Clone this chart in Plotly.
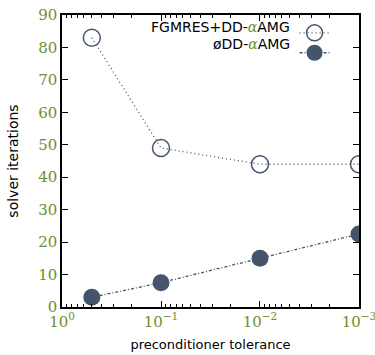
import plotly.graph_objects as go

tolerance = [0.5, 0.1, 0.01, 0.001]
fgmres_iters = [83, 49, 44, 44]
plain_iters = [3, 7.5, 15, 22.5]
x_tickvals = [1, 0.1, 0.01, 0.001]
x_ticktext = ["10<sup>0</sup>", "10<sup>−1</sup>", "10<sup>−2</sup>", "10<sup>−3</sup>"]
series_names = ["FGMRES+DD-<span style='color:#6f8f2a;font-family:DejaVu Serif'><i>α</i></span>AMG",
                "øDD-<span style='color:#6f8f2a;font-family:DejaVu Serif'><i>α</i></span>AMG"]

col = "#44546a"
green = "#6f8f2a"

fig = go.Figure()
fig.add_trace(go.Scatter(
    x=tolerance, y=fgmres_iters, mode="lines+markers", name=" ",
    line=dict(color=col, width=1.3, dash="1px,3px"),
    marker=dict(symbol="circle-open", size=17, color=col, line=dict(width=1.5, color=col)),
))
fig.add_trace(go.Scatter(
    x=tolerance, y=plain_iters, mode="lines+markers", name=" ",
    line=dict(color=col, width=1.3, dash="3px,2px,1px,2px"),
    marker=dict(symbol="circle", size=17, color=col),
))

tickfont = dict(family="DejaVu Serif", size=15, color=green)
fig.update_xaxes(
    type="log", range=[0.0002, -3.0002], tickvals=x_tickvals, ticktext=x_ticktext,
    ticklabeloverflow="allow", automargin=False,
    showgrid=False, zeroline=False, showline=True, linecolor="black", linewidth=1.5,
    mirror="allticks", ticks="inside", ticklen=6, tickcolor="black",
    minor=dict(ticks="inside", ticklen=3, tickcolor="black", dtick="D1"),
    tickfont=tickfont,
    title=dict(text="preconditioner tolerance", font=dict(family="DejaVu Sans", size=13, color="black"), standoff=10),
)
fig.update_yaxes(
    range=[0, 90], dtick=10, automargin=False,
    showgrid=False, zeroline=False, showline=True, linecolor="black", linewidth=1.5,
    mirror="allticks", ticks="inside", ticklen=6, tickcolor="black",
    tickfont=tickfont,
    title=dict(text="solver iterations", font=dict(family="DejaVu Sans", size=14, color="black"), standoff=16),
)

for i, name in enumerate(series_names):
    fig.add_annotation(
        text=name, xref="paper", yref="paper", x=0.775, y=0.958 - i * 0.058,
        xanchor="right", yanchor="middle", showarrow=False,
        font=dict(family="DejaVu Sans", size=14, color="black"),
    )

fig.update_layout(
    width=375, height=355,
    margin=dict(l=62, r=16, t=15, b=48),
    plot_bgcolor="white", paper_bgcolor="white",
    showlegend=True,
    legend=dict(x=0.783, y=0.99, xanchor="left", yanchor="top", bgcolor="rgba(0,0,0,0)",
                tracegroupgap=0, itemwidth=30, font=dict(size=13)),
)

fig.write_html("out.html", config={"displayModeBar": False},
               post_script="document.body.style.margin='0';")
